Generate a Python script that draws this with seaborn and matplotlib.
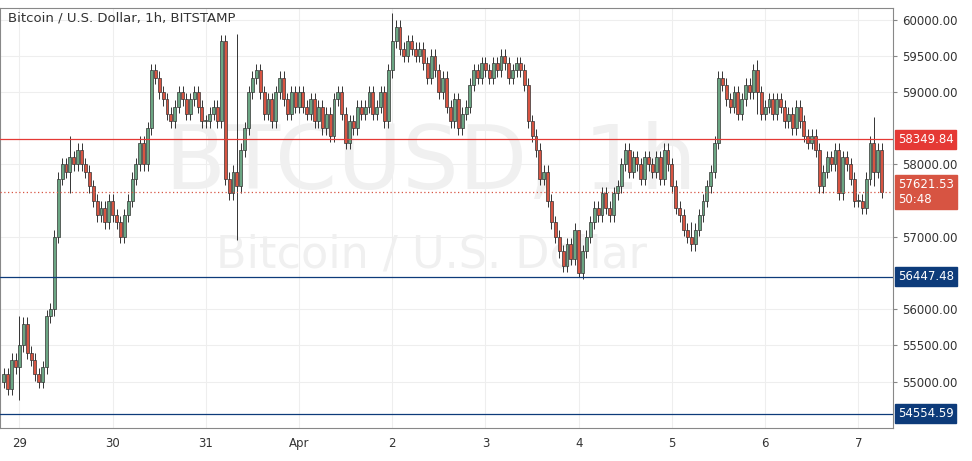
import numpy as np
import pandas as pd
import seaborn as sns
import matplotlib.pyplot as plt

# hourly closes, BTCUSD Bitstamp, starting Mar 28 20:00
pre = [55100, 54900, 55300, 55200]
mar29 = [55500, 55800, 55400, 55300, 55100, 55000, 55200, 55900, 56000, 57000, 57800, 58000,
         57900, 58100, 58000, 58200, 58000, 57900, 57700, 57500, 57300, 57400, 57200, 57500]
mar30 = [57300, 57200, 57000, 57300, 57500, 57800, 58000, 58300, 58000, 58500, 59300, 59200,
         59000, 58900, 58700, 58600, 58800, 59000, 58900, 58700, 58900, 59000, 58800, 58600]
mar31 = [58600, 58700, 58800, 58600, 59700, 57800, 57600, 57900, 57700, 58200, 58500, 59000,
         59200, 59300, 59000, 58700, 58900, 58600, 59000, 59200, 58900, 58700, 59000, 58800]
apr1 = [59000, 58800, 58700, 58900, 58600, 58800, 58500, 58700, 58400, 58900, 59000, 58700,
        58300, 58600, 58500, 58800, 58700, 58800, 59000, 58700, 58800, 59000, 58600, 59300]
apr2 = [59700, 59900, 59600, 59500, 59700, 59600, 59500, 59600, 59400, 59200, 59500, 59300,
        59000, 59200, 58800, 58600, 58900, 58500, 58700, 58800, 59100, 59300, 59200, 59400]
apr3 = [59300, 59200, 59400, 59300, 59500, 59400, 59200, 59300, 59400, 59300, 59100, 58600,
        58400, 58200, 57800, 57900, 57500, 57200, 57000, 56800, 56600, 56900, 56700, 57100]
apr4 = [56500, 56800, 57000, 57200, 57400, 57300, 57600, 57400, 57300, 57600, 57700, 58000,
        58200, 57900, 58100, 58000, 57800, 58100, 58000, 57900, 58100, 57800, 58200, 58000]
apr5 = [57700, 57400, 57300, 57100, 57000, 56900, 57100, 57300, 57500, 57700, 57900, 58300,
        59200, 59100, 58900, 58800, 59000, 58700, 58900, 59100, 59000, 59300, 59000, 58700]
apr6 = [58800, 58900, 58700, 58900, 58800, 58600, 58700, 58500, 58800, 58600, 58400, 58300,
        58400, 58200, 57700, 57900, 58100, 58000, 58200, 57600, 58100, 58000, 57800, 57500]
apr7 = [57500, 57400, 57800, 58300, 57900, 58200, 57621.53]

# notable wick extremes: index -> (high, low)
extremes = {4: (55900, 54750), 17: (58400, 57600), 60: (59800, 56950), 100: (60100, 59200),
            148: (57000, 56450), 177: (57200, 56800), 194: (59450, 58700), 224: (58650, 57700)}

levels_red = [58349.84]
levels_blue = [56447.48, 54554.59]
last_price = 57621.53
tick_days = ["29", "30", "31", "Apr", "2", "3", "4", "5", "6", "7"]
price_ticks = [55000, 55500, 56000, 57000, 58000, 59000, 59500, 60000]

closes = pre + mar29 + mar30 + mar31 + apr1 + apr2 + apr3 + apr4 + apr5 + apr6 + apr7
df = pd.DataFrame({"close": closes})
df["open"] = df["close"].shift(1).fillna(55000)
df["high"] = df[["open", "close"]].max(axis=1) + 90
df["low"] = df[["open", "close"]].min(axis=1) - 90
for i, (h, l) in extremes.items():
    df.loc[i, "high"] = h
    df.loc[i, "low"] = l
df["up"] = df["close"] >= df["open"]

sns.set_style("white")
fig = plt.figure(figsize=(9.72, 4.61), dpi=100)
ax = fig.add_axes([0.0, 0.072, 0.919, 0.911])
YMIN, YMAX = 54360, 60165

ax.grid(True, color="#eeeeee", lw=0.8)
up_c, dn_c = "#6ba583", "#d75442"
for i, r in df.iterrows():
    ax.vlines(i, r["low"], r["high"], color="#333333", lw=0.7, zorder=2)
    col = up_c if r["up"] else dn_c
    ax.bar(i, max(abs(r["close"] - r["open"]), 15), bottom=min(r["open"], r["close"]),
           width=0.75, color=col, edgecolor="#333333", linewidth=0.5, zorder=3)

for v in levels_red:
    ax.axhline(v, color="#e53935", lw=0.9, zorder=4)
for v in levels_blue:
    ax.axhline(v, color="#0d3b7a", lw=0.9, zorder=4)
ax.axhline(last_price, color="#d75442", lw=0.9, ls=(0, (1, 2)), zorder=4)

ax.text(110, 58000, "BTCUSD, 1h", fontsize=64, color="#f0f0f0", ha="center", va="center", zorder=1)
ax.text(110, 56750, "Bitcoin / U.S. Dollar", fontsize=32, color="#f0f0f0", ha="center", va="center", zorder=1)
ax.text(1, 60020, "Bitcoin / U.S. Dollar, 1h, BITSTAMP", fontsize=9.5, color="#333333", va="center")

ax.set_xlim(-1, 229)
ax.set_ylim(YMIN, YMAX)
ax.yaxis.tick_right()
ax.set_yticks(price_ticks)
ax.set_yticklabels([f"{v:.2f}" for v in price_ticks], fontsize=8.5, color="#333333")
ax.set_xticks(np.arange(4, 4 + 24 * len(tick_days), 24))
ax.set_xticklabels(tick_days, fontsize=8.5, color="#333333")
ax.tick_params(length=3, color="#888888")
for s in ax.spines.values():
    s.set_color("#888888")
    s.set_linewidth(0.8)

def tag(v, txt, col):
    ax.text(1.005, (v - YMIN) / (YMAX - YMIN), txt, transform=ax.transAxes,
            fontsize=8.5, color="white", va="center", ha="left",
            bbox=dict(boxstyle="square,pad=0.25", fc=col, ec=col))

tag(levels_red[0], "58349.84", "#e53935")
tag(last_price, "57621.53\n50:48", "#d75442")
for v in levels_blue:
    tag(v, f"{v:.2f}", "#0d3b7a")

fig.savefig("out.png", dpi=100)
